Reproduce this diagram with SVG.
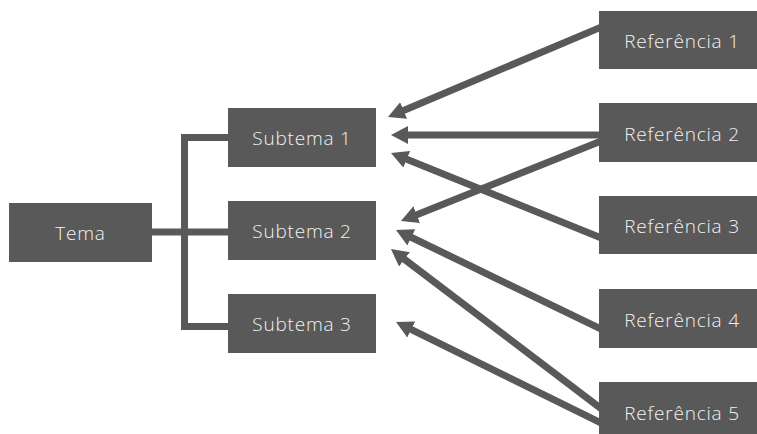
<svg xmlns="http://www.w3.org/2000/svg" width="757" height="434" viewBox="0 0 757 434">
  <style>
    .box { fill: #595959; }
    .label { fill: #f2f2f2; font-family: "Open Sans", Lato, "Liberation Sans", sans-serif; font-weight: 300; font-size: 19px; letter-spacing: 0.8px; text-anchor: middle; }
    .tree { fill: none; stroke: #595959; stroke-width: 7; }
    .ref { stroke: #595959; stroke-width: 7; marker-end: url(#head); }
  </style>
  <defs>
    <marker id="head" markerUnits="userSpaceOnUse" markerWidth="17" markerHeight="18" refX="2" refY="9" orient="auto">
      <path d="M0,0 L17,9 L0,18 z" fill="#595959"/>
    </marker>
  </defs>

  <g id="connectors">
    <path class="tree" d="M152,232 H230 M230,137.5 H184.5 V326.5 H230"/>
    <line class="ref" x1="610" y1="23.4" x2="401.8" y2="111.2"/>
    <line class="ref" x1="610" y1="135" x2="406" y2="135"/>
    <line class="ref" x1="610" y1="241.4" x2="404.9" y2="158.6"/>
    <line class="ref" x1="610" y1="137.6" x2="414.9" y2="215.4"/>
    <line class="ref" x1="610" y1="333.3" x2="409.5" y2="236.5"/>
    <line class="ref" x1="610" y1="415.4" x2="402.9" y2="258.1"/>
    <line class="ref" x1="610" y1="427.4" x2="409.5" y2="328.6"/>
  </g>

  <g id="tema">
    <rect class="box" x="9" y="203" width="143" height="59"/>
    <text class="label" x="80.5" y="239.5">Tema</text>
  </g>
  <g id="subtema-1">
    <rect class="box" x="228" y="108" width="148" height="59"/>
    <text class="label" x="302" y="145">Subtema 1</text>
  </g>
  <g id="subtema-2">
    <rect class="box" x="228" y="201" width="148" height="59"/>
    <text class="label" x="302" y="238">Subtema 2</text>
  </g>
  <g id="subtema-3">
    <rect class="box" x="228" y="294" width="148" height="59"/>
    <text class="label" x="302" y="331">Subtema 3</text>
  </g>

  <g id="referencia-1">
    <rect class="box" x="599" y="11" width="158" height="58"/>
    <text class="label" x="682" y="47.5">Referência 1</text>
  </g>
  <g id="referencia-2">
    <rect class="box" x="599" y="103" width="158" height="59"/>
    <text class="label" x="682" y="140.5">Referência 2</text>
  </g>
  <g id="referencia-3">
    <rect class="box" x="599" y="196" width="158" height="58"/>
    <text class="label" x="682" y="232.5">Referência 3</text>
  </g>
  <g id="referencia-4">
    <rect class="box" x="599" y="289" width="158" height="59"/>
    <text class="label" x="682" y="326.5">Referência 4</text>
  </g>
  <g id="referencia-5">
    <rect class="box" x="599" y="382" width="158" height="52"/>
    <text class="label" x="682" y="419.5">Referência 5</text>
  </g>
</svg>
